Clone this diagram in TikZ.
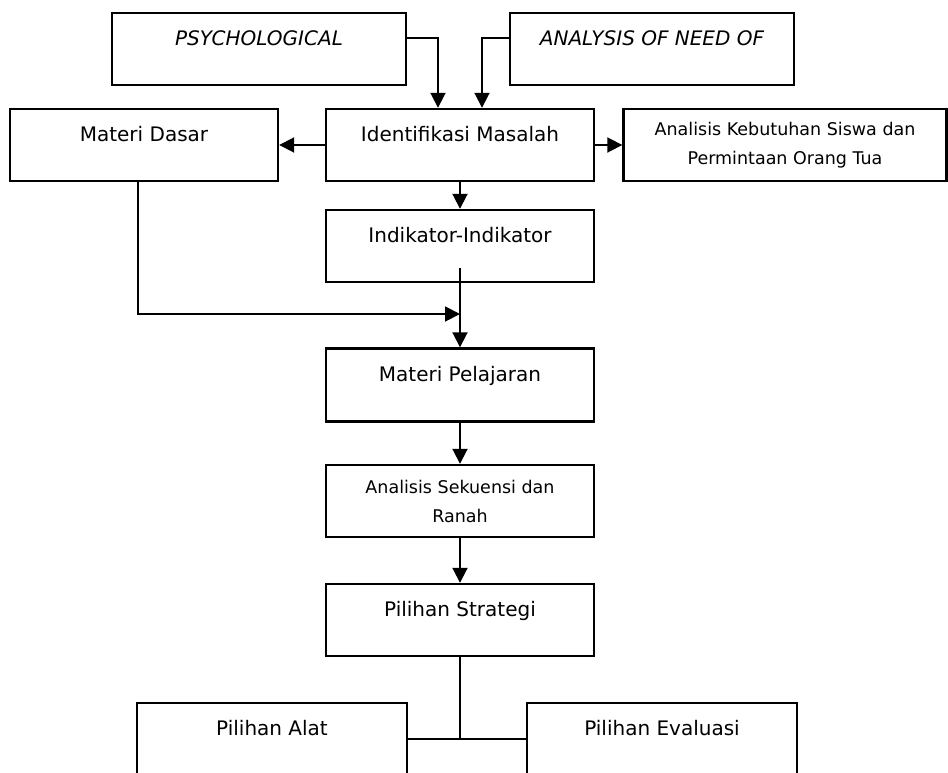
\documentclass[tikz,border=0pt]{standalone}
\usepackage{fontspec}
\setmainfont{DejaVu Sans}
\usetikzlibrary{arrows.meta}

\begin{document}
\begin{tikzpicture}[x=1pt,y=-1pt]
\tikzstyle{kotak}=[draw,line width=2.4pt,minimum width=268pt,minimum height=72pt,inner sep=0pt,font=\fontsize{20}{24}\selectfont,text height=15pt,text depth=21.4pt]
\tikzstyle{kotakdua}=[draw,line width=2.4pt,minimum width=268pt,minimum height=72pt,inner sep=0pt,align=center,font=\fontsize{17.5}{29}\selectfont]
\tikzstyle{panah}=[line width=1.9pt,-{Triangle[length=15pt,width=15pt]}]
\tikzstyle{garis}=[line width=1.9pt]
\clip (0,0) rectangle (948,773);
% baris atas
\node [kotak,minimum width=294pt,font=\fontsize{20}{24}\selectfont\itshape] (psy) at (259,49) {PSYCHOLOGICAL};
\node [kotak,minimum width=284pt,font=\fontsize{20}{24}\selectfont\itshape] (need) at (652,49) {ANALYSIS OF NEED OF};
\node [kotak] (dasar) at (144,145) {Materi Dasar};
\node [kotak] (idm) at (460,145) {Identifikasi Masalah};
\node [kotakdua,minimum width=323pt] (keb) at (785,145) {Analisis Kebutuhan Siswa dan\\Permintaan Orang Tua};
% kolom tengah
\node [kotak] (ind) at (460,246) {Indikator-Indikator};
\node [kotak,minimum height=73pt] (mp) at (460,385) {Materi Pelajaran};
\node [kotakdua] (seq) at (460,501) {Analisis Sekuensi dan\\Ranah};
\node [kotak] (strat) at (460,620) {Pilihan Strategi};
\node [kotak,minimum width=270pt] (alat) at (272,739) {Pilihan Alat};
\node [kotak,minimum width=270pt] (eval) at (662,739) {Pilihan Evaluasi};
\coordinate (mrg) at (460,314);
% panah
\draw [panah] ([yshift=11pt]psy.east) -| ([xshift=-22pt]idm.north);
\draw [panah] ([yshift=11pt]need.west) -| ([xshift=22pt]idm.north);
\draw [panah] (idm.west) -- (dasar.east);
\draw [panah] (idm.east) -- (keb.west);
\draw [panah] (idm.south) -- (ind.north);
\draw [panah] ([yshift=15pt]ind.south) -- (mp.north);
\draw [panah] ([xshift=-6pt]dasar.south) |- (mrg);
\draw [panah] (mp.south) -- (seq.north);
\draw [panah] (seq.south) -- (strat.north);
\draw [garis] (alat.east) -- (eval.west);
\draw [garis] (strat.south) -- (strat.south |- alat.east);
\end{tikzpicture}
\end{document}
